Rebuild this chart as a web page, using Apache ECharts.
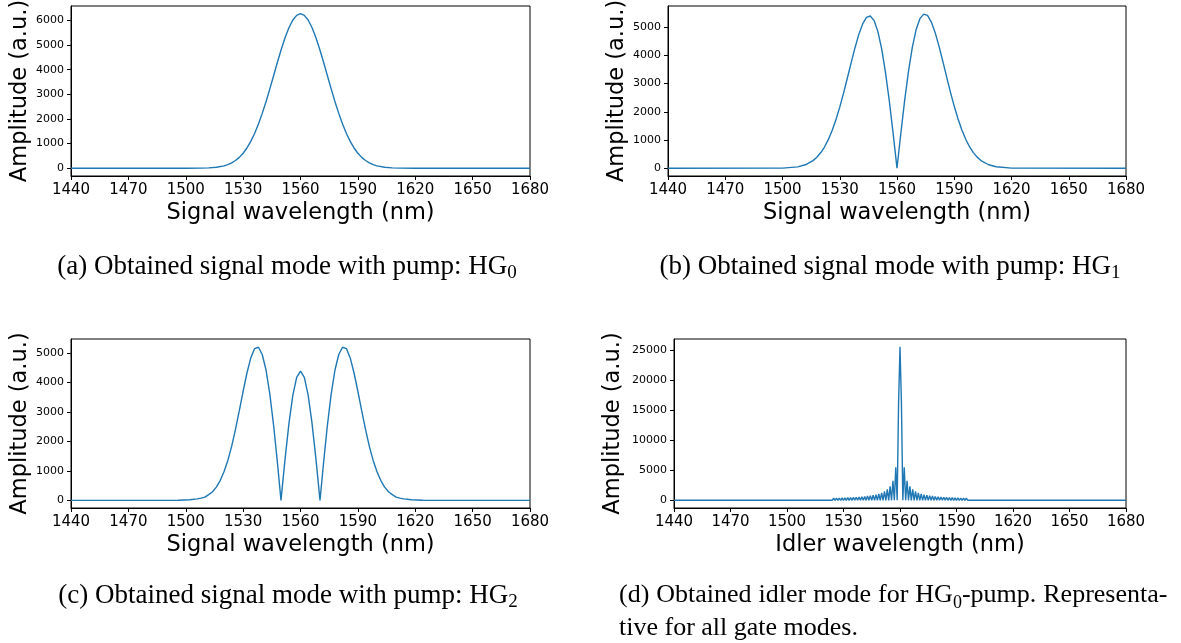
<!DOCTYPE html>
<html>
<head>
<meta charset="utf-8">
<script src="https://cdn.jsdelivr.net/npm/echarts@6.0.0/dist/echarts.min.js"></script>
<style>
html, body { margin: 0; padding: 0; background: #fff; }
#chart { width: 1181px; height: 643px; }
</style>
</head>
<body>
<div id="chart"></div>
<script>
// wavelength ticks shared by all four panels
var wlTicks = [1440, 1470, 1500, 1530, 1560, 1590, 1620, 1650, 1680];

// (a) signal, HG0 pump
var signalWl0 = [1440, 1500, 1508, 1512, 1516,
	1520, 1522, 1524, 1526, 1528, 1530, 1532, 1534, 1536, 1538, 1540, 1542, 1544, 1546, 1548, 1550, 1552, 1554, 1556, 1558,
	1560,
	1562, 1564, 1566, 1568, 1570, 1572, 1574, 1576, 1578, 1580, 1582, 1584, 1586, 1588, 1590, 1592, 1594, 1596, 1598, 1600,
	1604, 1608, 1612, 1620, 1680];
var signalAmp0 = [0, 0, 6, 16, 42,
	100, 149, 219, 315, 443, 611, 824, 1090, 1412, 1792, 2227, 2711, 3233, 3776, 4319, 4840, 5313, 5712, 6015, 6205,
	6270,
	6205, 6015, 5712, 5313, 4840, 4319, 3776, 3233, 2711, 2227, 1792, 1412, 1090, 824, 611, 443, 315, 219, 149, 100,
	42, 16, 6, 0, 0];

// (b) signal, HG1 pump
var signalWl1 = [1440, 1500, 1508, 1512, 1516,
	1518, 1520, 1522, 1524, 1526, 1528, 1530, 1532, 1534, 1536, 1538, 1540, 1542, 1544, 1546, 1548, 1550, 1552, 1554, 1556, 1558,
	1560,
	1562, 1564, 1566, 1568, 1570, 1572, 1574, 1576, 1578, 1580, 1582, 1584, 1586, 1588, 1590, 1592, 1594, 1596, 1598, 1600, 1602, 1604,
	1608, 1612, 1620, 1680];
var signalAmp1 = [0, 5, 51, 123, 271,
	389, 547, 753, 1014, 1336, 1721, 2166, 2664, 3199, 3745, 4272, 4744, 5115, 5344, 5394, 5232, 4841, 4218, 3382, 2365, 1216,
	0,
	1232, 2395, 3426, 4273, 4904, 5300, 5463, 5414, 5181, 4805, 4328, 3793, 3240, 2699, 2195, 1743, 1353, 1027, 763, 554, 394, 274,
	125, 52, 5, 0];

// (c) signal, HG2 pump
var signalWl2 = [1440, 1496, 1502, 1506, 1508, 1510, 1512, 1514, 1516, 1518, 1520, 1522, 1524, 1526, 1528, 1530,
	1532, 1534, 1536, 1538, 1540, 1542, 1544, 1546, 1548, 1549.8,
	1550, 1552, 1554, 1556, 1558, 1560, 1562, 1564, 1566, 1568, 1570,
	1570.2, 1572, 1574, 1576, 1578, 1580, 1582, 1584, 1586, 1588,
	1590, 1592, 1594, 1596, 1598, 1600, 1602, 1604, 1606, 1608, 1610, 1612, 1614, 1618, 1624, 1680];
var signalAmp2 = [0, 3, 18, 48, 75, 110, 193, 290, 449, 670, 968, 1353, 1831, 2405, 3040, 3698,
	4317, 4828, 5146, 5189, 4944, 4410, 3586, 2506, 1233, 0,
	136, 1447, 2628, 3567, 4171, 4380, 4171, 3567, 2628, 1447, 136,
	0, 1233, 2506, 3586, 4410, 4944, 5189, 5146, 4828, 4317,
	3698, 3040, 2405, 1831, 1353, 968, 670, 449, 290, 193, 110, 75, 48, 18, 3, 0];

// (d) idler, HG0 pump
var idlerWl = [1440, 1513.5,
	1514.25, 1515, 1515.75, 1516.5, 1517.25, 1518, 1518.75, 1519.5, 1520.25, 1521, 1521.75, 1522.5, 1523.25, 1524, 1524.75, 1525.5, 1526.25, 1527, 1527.75, 1528.5, 1529.25, 1530,
	1530.75, 1531.5, 1532.25, 1533, 1533.75, 1534.5, 1535.25, 1536, 1536.75, 1537.5, 1538.25, 1539, 1539.75, 1540.5, 1541.25, 1542, 1542.75, 1543.5, 1544.25, 1545,
	1545.75, 1546.5, 1547.25, 1548, 1548.75, 1549.5, 1550.25, 1551, 1551.75, 1552.5, 1553.25, 1554, 1554.75, 1555.5, 1556.25, 1557, 1557.75, 1558.5,
	1559.25, 1560, 1560.75, 1561.5,
	1562.25, 1563, 1563.75, 1564.5, 1565.25, 1566, 1566.75, 1567.5, 1568.25, 1569, 1569.75, 1570.5, 1571.25, 1572, 1572.75, 1573.5, 1574.25, 1575, 1575.75, 1576.5,
	1577.25, 1578, 1578.75, 1579.5, 1580.25, 1581, 1581.75, 1582.5, 1583.25, 1584, 1584.75, 1585.5, 1586.25, 1587, 1587.75, 1588.5, 1589.25, 1590, 1590.75, 1591.5,
	1592.25, 1593, 1593.75, 1594.5, 1595.25, 1596, 1596.75, 1597.5, 1598.25, 1599, 1599.75, 1600.5, 1601.25, 1602, 1602.75, 1603.5, 1604.25, 1605, 1605.75, 1606.5,
	1680];
var idlerAmp = [0, 0,
	267, 0, 276, 0, 286, 0, 296, 0, 308, 0, 320, 0, 333, 0, 347, 0, 362, 0, 379, 0, 397, 0,
	418, 0, 440, 0, 466, 0, 494, 0, 526, 0, 562, 0, 604, 0, 652, 0, 709, 0, 776, 0,
	858, 0, 959, 0, 1087, 0, 1254, 0, 1482, 0, 1811, 0, 2328, 0, 3260, 0, 5500, 0,
	16300, 25600, 16300, 0,
	5500, 0, 3260, 0, 2328, 0, 1811, 0, 1482, 0, 1254, 0, 1087, 0, 959, 0, 858, 0, 776, 0,
	709, 0, 652, 0, 604, 0, 562, 0, 526, 0, 494, 0, 466, 0, 440, 0, 418, 0, 397, 0,
	379, 0, 362, 0, 347, 0, 333, 0, 320, 0, 308, 0, 296, 0, 286, 0, 276, 0, 267, 0,
	0];

var ampTicksA = [0, 1000, 2000, 3000, 4000, 5000, 6000];
var ampTicksB = [0, 1000, 2000, 3000, 4000, 5000];
var ampTicksC = [0, 1000, 2000, 3000, 4000, 5000];
var ampTicksD = [0, 5000, 10000, 15000, 20000, 25000];

var sans = 'DejaVu Sans, sans-serif';
var serif = 'Liberation Serif, DejaVu Serif, serif';

var panels = [
	{ wl: signalWl0, amp: signalAmp0, ticks: ampTicksA, yMin: -313, yMax: 6583, xName: 'Signal wavelength (nm)',
		box: { left: 71, top: 6, width: 459, height: 170 }, nameGap: 35 },
	{ wl: signalWl1, amp: signalAmp1, ticks: ampTicksB, yMin: -274, yMax: 5749, xName: 'Signal wavelength (nm)',
		box: { left: 668, top: 6, width: 458, height: 170 }, nameGap: 36 },
	{ wl: signalWl2, amp: signalAmp2, ticks: ampTicksC, yMin: -260, yMax: 5470, xName: 'Signal wavelength (nm)',
		box: { left: 71, top: 339, width: 459, height: 169 }, nameGap: 35 },
	{ wl: idlerWl, amp: idlerAmp, ticks: ampTicksD, yMin: -1280, yMax: 26880, xName: 'Idler wavelength (nm)',
		box: { left: 674, top: 339, width: 452, height: 169 }, nameGap: 49 }
];

// caption text styles (LaTeX-like subscripts)
var capRich = {
	m: { fontFamily: serif, fontSize: 27, lineHeight: 33, fill: '#000' },
	s: { fontFamily: serif, fontSize: 19, lineHeight: 20, verticalAlign: 'bottom', fill: '#000' },
	d: { fontFamily: serif, fontSize: 26, lineHeight: 33, fill: '#000' },
	e: { fontFamily: serif, fontSize: 18, lineHeight: 20, verticalAlign: 'bottom', fill: '#000' },
	g: { fontFamily: serif, fontSize: 26, lineHeight: 33, width: 7 }
};

function caption(x, y, align, text){
	return {
		type: 'text', x: x, y: y, silent: true,
		style: { text: text, rich: capRich, fill: '#000', font: '27px ' + serif, align: align, verticalAlign: 'top' }
	};
}

var option = {
	backgroundColor: '#fff',
	animation: false,
	grid: [],
	xAxis: [],
	yAxis: [],
	series: [],
	graphic: [
		caption(287, 250, 'center', '{m|(a) Obtained signal mode with pump: HG}{s|0}'),
		caption(890, 250, 'center', '{m|(b) Obtained signal mode with pump: HG}{s|1}'),
		caption(288, 579, 'center', '{m|(c) Obtained signal mode with pump: HG}{s|2}'),
		caption(619, 579, 'left', '{d|(d)}{g|}{d|Obtained}{g|}{d|idler}{g|}{d|mode}{g|}{d|for}{g|}{d|HG}{e|0}{d|-pump.}{g|}{d|Representa-}\n{d|tive for all gate modes.}')
	]
};

panels.forEach(function(p, i){
	var g = p.box;
	option.grid.push({
		left: g.left, top: g.top, width: g.width, height: g.height,
		show: true, borderColor: '#000', borderWidth: 1, backgroundColor: 'transparent',
		containLabel: false, outerBoundsMode: 'none'
	});
	option.xAxis.push({
		type: 'value', gridIndex: i,
		min: wlTicks[0], max: wlTicks[wlTicks.length - 1], interval: 30,
		name: p.xName, nameLocation: 'middle', nameGap: 26,
		nameTextStyle: { fontFamily: sans, fontSize: 22.5, color: '#000' },
		axisLine: { show: true, onZero: false, lineStyle: { color: '#000', width: 1 } },
		axisTick: { show: true, length: 4, lineStyle: { color: '#000', width: 1 } },
		axisLabel: { fontFamily: sans, fontSize: 15, color: '#000', margin: 7,
			formatter: function(v){ return String(v); } },
		splitLine: { show: false }
	});
	option.yAxis.push({
		type: 'value', gridIndex: i,
		min: p.yMin, max: p.yMax,
		name: 'Amplitude (a.u.)', nameLocation: 'middle', nameRotate: 90, nameGap: p.nameGap,
		nameTextStyle: { fontFamily: sans, fontSize: 22.5, color: '#000' },
		axisLine: { show: true, lineStyle: { color: '#000', width: 1 } },
		axisTick: { show: true, length: 4, customValues: p.ticks, lineStyle: { color: '#000', width: 1 } },
		axisLabel: { fontFamily: sans, fontSize: 11, color: '#000', margin: 7, customValues: p.ticks,
			formatter: function(v){ return String(v); } },
		splitLine: { show: false }
	});
	var pts = [];
	for (var k = 0; k < p.wl.length; k++) {
		pts.push([p.wl[k], p.amp[k]]);
	}
	option.series.push({
		type: 'line', xAxisIndex: i, yAxisIndex: i,
		data: pts, showSymbol: false, symbol: 'none', smooth: false,
		lineStyle: { color: '#1f77b4', width: 1.4 },
		clip: true
	});
});

var chart = echarts.init(document.getElementById('chart'), null, { renderer: 'canvas' });
chart.setOption(option);
</script>
</body>
</html>
